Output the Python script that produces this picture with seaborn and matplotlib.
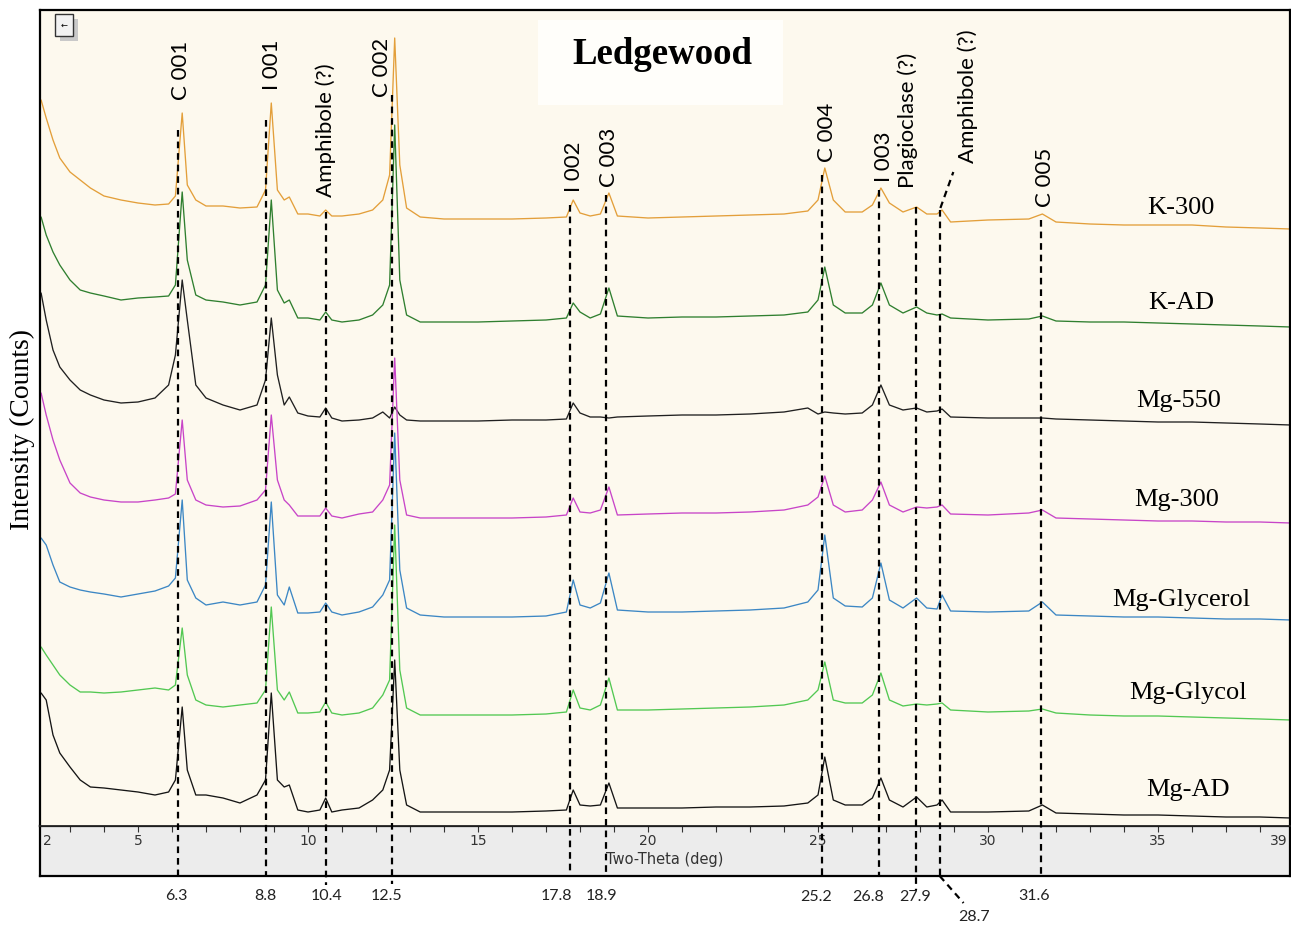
import numpy as np
import pandas as pd
import matplotlib
matplotlib.use("Agg")
import matplotlib.pyplot as plt
from matplotlib.patches import Rectangle
import seaborn as sns

# ---------------- data ----------------
two_theta = [2.15, 2.3, 2.5, 2.7, 3.0, 3.3, 3.6, 4.0, 4.5, 5.0,
             5.5, 5.9, 6.1, 6.3, 6.45, 6.7, 7.0, 7.5, 8.0, 8.5,
             8.75, 8.92, 9.1, 9.3, 9.45, 9.7, 10.0, 10.35, 10.52, 10.7,
             11.0, 11.5, 11.9, 12.2, 12.4, 12.55, 12.7, 12.9, 13.3, 14.0,
             15.0, 16.0, 17.0, 17.6, 17.8, 18.0, 18.3, 18.6, 18.85, 19.1,
             20.0, 21.0, 22.0, 23.0, 24.0, 24.7, 25.0, 25.2, 25.45, 25.8,
             26.3, 26.6, 26.85, 27.1, 27.5, 27.9, 28.2, 28.5, 28.65, 28.9,
             30.0, 31.2, 31.6, 32.0, 33.0, 34.0, 35.0, 36.0, 37.0, 38.0, 38.9]

k_300 = [130, 112, 90, 72, 58, 50, 42, 34, 30, 27,
         25, 26, 34, 117, 45, 30, 24, 24, 22, 23,
         40, 127, 40, 30, 33, 16, 16, 14, 20, 14,
         14, 16, 20, 30, 55, 192, 65, 22, 13, 11,
         11, 11, 12, 13, 30, 17, 14, 16, 37, 14,
         12, 13, 14, 15, 16, 19, 30, 62, 30, 18,
         18, 25, 42, 27, 18, 23, 16, 16, 20, 8,
         10, 11, 16, 8, 6, 5, 5, 5, 3, 2, 1]

k_ad = [110, 92, 75, 62, 47, 37, 34, 31, 27, 29,
        30, 31, 42, 135, 67, 32, 27, 25, 22, 25,
        42, 127, 37, 24, 27, 9, 9, 7, 15, 7,
        5, 7, 12, 22, 42, 202, 47, 12, 5, 5,
        5, 6, 7, 9, 24, 15, 9, 13, 39, 11,
        9, 10, 10, 11, 12, 15, 27, 60, 22, 14,
        14, 22, 44, 22, 14, 20, 14, 12, 13, 9,
        7, 8, 11, 6, 5, 5, 4, 3, 2, 1, 0]

mg_550 = [132, 105, 75, 58, 45, 35, 30, 25, 22, 23,
          27, 40, 70, 145, 105, 40, 27, 20, 15, 20,
          45, 107, 50, 20, 28, 12, 9, 8, 17, 7,
          4, 5, 7, 13, 7, 18, 10, 5, 4, 4,
          4, 5, 5, 6, 22, 12, 8, 8, 7, 8,
          9, 10, 10, 11, 13, 17, 11, 13, 12, 11,
          12, 20, 40, 20, 15, 17, 13, 14, 16, 8,
          7, 7, 7, 6, 5, 4, 3, 3, 2, 1, 0]

mg_300 = [130, 108, 83, 63, 40, 30, 26, 23, 21, 21,
          23, 25, 29, 103, 43, 23, 18, 16, 17, 23,
          33, 108, 43, 23, 18, 7, 7, 7, 15, 7,
          5, 9, 11, 23, 38, 165, 43, 8, 5, 5,
          5, 5, 6, 8, 25, 11, 10, 13, 36, 8,
          9, 10, 10, 11, 13, 18, 26, 47, 18, 11,
          13, 23, 41, 18, 11, 16, 15, 16, 18, 9,
          8, 10, 13, 5, 4, 3, 2, 2, 1, 1, 0]

mg_glycerol = [82, 75, 55, 38, 33, 30, 28, 26, 23, 26,
               29, 34, 42, 120, 40, 22, 15, 18, 15, 18,
               35, 118, 25, 15, 33, 7, 7, 8, 17, 8,
               5, 8, 13, 25, 40, 187, 50, 12, 5, 3,
               3, 3, 4, 8, 40, 15, 12, 17, 47, 10,
               8, 8, 9, 10, 12, 18, 30, 85, 22, 14,
               13, 22, 57, 20, 12, 22, 12, 11, 25, 9,
               8, 9, 18, 5, 4, 3, 3, 2, 1, 1, 0]

mg_glycol = [73, 65, 55, 45, 35, 28, 28, 27, 28, 30,
             32, 30, 35, 92, 45, 20, 15, 13, 15, 17,
             30, 113, 30, 20, 28, 7, 7, 8, 18, 7,
             5, 7, 12, 25, 40, 195, 50, 12, 5, 5,
             5, 5, 6, 8, 30, 12, 10, 15, 42, 10,
             10, 11, 12, 13, 15, 20, 30, 58, 20, 17,
             17, 25, 47, 20, 14, 16, 15, 16, 17, 10,
             8, 9, 11, 7, 5, 4, 4, 3, 2, 1, 0]

mg_ad = [125, 118, 83, 65, 51, 38, 31, 30, 28, 26,
         23, 26, 38, 111, 48, 23, 23, 20, 15, 23,
         38, 125, 38, 31, 33, 8, 6, 8, 20, 6,
         8, 10, 18, 28, 48, 158, 48, 13, 6, 6,
         6, 6, 7, 8, 28, 13, 12, 13, 35, 10,
         10, 10, 11, 11, 12, 15, 23, 61, 18, 13,
         13, 20, 40, 18, 11, 21, 11, 13, 18, 6,
         6, 7, 13, 5, 4, 3, 3, 2, 1, 1, 0]

samples = ["K-300", "K-AD", "Mg-550", "Mg-300", "Mg-Glycerol", "Mg-Glycol", "Mg-AD"]
series = [k_300, k_ad, mg_550, mg_300, mg_glycerol, mg_glycol, mg_ad]

peak_positions = [6.3, 8.8, 10.4, 12.5, 17.8, 18.9, 25.2, 26.8, 27.9, 28.7, 31.6]
peak_names = ["C 001", "I 001", "Amphibole (?)", "C 002", "I 002", "C 003",
              "C 004", "I 003", "Plagioclase (?)", "Amphibole (?)", "C 005"]
x_ticks = [5, 10, 15, 20, 25, 30, 35]

title = "Ledgewood"
x_label = "Two-Theta (deg)"
y_label = "Intensity (Counts)"

# ---------------- layout / style ----------------
W, H = 1291, 926
offsets = [596, 499, 401, 303, 206, 106, 8]          # vertical stacking
colors = ["#E39F3A", "#2F7F2F", "#202020", "#C845C8", "#3C87C4", "#52C852", "#151515"]
label_x = [35.68, 35.68, 35.62, 35.56, 35.68, 35.88, 35.88]
label_dy = [22, 24, 24, 23, 20, 27, 28]

line_x = [6.17, 8.76, 10.52, 12.47, 17.70, 18.75, 25.13, 26.79, 27.88, 28.58, 31.56]
line_top = [130, 120, 212, 95, 205, 195, 175, 190, 207, 210, 220]
line_bot = [876, 876, 885, 884, 876, 876, 876, 876, 890, 876, 876]
name_x = [6.26, 8.94, 10.52, 12.18, 17.82, 18.84, 25.26, 26.94, 27.65, 29.41, 31.68]
name_bottom = [100, 90, 197, 97, 192, 187, 162, 182, 188, 163, 207]
val_x = [6.12, 8.76, 10.56, 12.30, 17.30, 18.62, 24.94, 26.47, 27.85, 29.59, 31.35]
val_y = [896, 896, 896, 896, 896, 896, 897, 897, 897, 917, 896]

BG = "#FDF9EE"
BAND = "#ECECEC"

sns.set_theme(style="white")
plt.rcParams["font.family"] = ["DejaVu Sans"]

fig = plt.figure(figsize=(W / 100, H / 100), dpi=100)
fig.patch.set_facecolor("white")


def fx(px):
    return px / W


def fy(py):
    return 1 - py / H


X0 = 2 + (40 - 36) / 34
X1 = 2 + (1290 - 36) / 34

ax = fig.add_axes([fx(40), fy(826), fx(1290) - fx(40), fy(10) - fy(826)])
band = fig.add_axes([fx(40), fy(876), fx(1290) - fx(40), fy(826) - fy(876)])
ax.set_zorder(2)
band.set_zorder(1)

ax.set_facecolor(BG)
band.set_facecolor(BAND)
ax.set_xlim(X0, X1)
ax.set_ylim(0, 816)
band.set_xlim(X0, X1)
band.set_ylim(0, 1)

# data frame
rows = []
for name, vals, off in zip(samples, series, offsets):
    for t, v in zip(two_theta, vals):
        rows.append({"two_theta": t, "signal": v + off, "sample": name})
df = pd.DataFrame(rows)

sns.lineplot(data=df, x="two_theta", y="signal", hue="sample", hue_order=samples,
             palette=colors, estimator=None, sort=False, legend=False,
             linewidth=0.95, ax=ax)

ax.set_xticks([])
ax.set_yticks([])
ax.set_xlabel("")
ax.set_ylabel("")
for s in ["left", "top", "right"]:
    ax.spines[s].set_color("black")
    ax.spines[s].set_linewidth(1.6)
ax.spines["bottom"].set_color("#222222")
ax.spines["bottom"].set_linewidth(1.3)
for s in band.spines.values():
    s.set_color("black")
    s.set_linewidth(1.6)

# band ticks
band.set_xticks(list(range(3, 39)))
band.set_yticks([])
band.xaxis.tick_top()
band.tick_params(axis="x", direction="in", length=4, width=0.8, color="#333333",
                 labeltop=False, labelbottom=False, top=True, bottom=False)
for v in x_ticks:
    band.text(v, 0.70, str(v), ha="center", va="center", fontsize=10, color="#333333")
band.text(X0 + 0.08, 0.70, "2", ha="left", va="center", fontsize=10, color="#333333")
band.text(X1 - 0.08, 0.70, "39", ha="right", va="center", fontsize=10, color="#333333")
band.text((X0 + X1) / 2, 0.33, x_label, ha="center", va="center", fontsize=10.5,
          color="#333333")

# title box + title
ax.add_patch(Rectangle((2 + (538 - 36) / 34, 826 - 105), (783 - 538) / 34, 85,
                       facecolor="#FFFEFA", edgecolor="none", zorder=1))
ax.text(2 + (662 - 36) / 34, 826 - 55, title, ha="center", va="center",
        family="Liberation Serif", fontweight="bold", fontsize=26.5, color="black", zorder=4)

# sample labels
for name, lx, dy, off in zip(samples, label_x, label_dy, offsets):
    ax.text(lx, off + dy, name, ha="center", va="center", family="Liberation Serif",
            fontsize=19, color="black", zorder=4)

# dashed reference lines
for lx, t, b in zip(line_x, line_top, line_bot):
    ax.plot([lx, lx], [826 - t, 826 - b], color="black", lw=1.6,
            linestyle=(0, (3, 2.2)), clip_on=False, zorder=3)
# diagonal leader lines for the 28.7 amphibole peak
ax.plot([28.6, 28.98], [826 - 208, 826 - 172], color="black", lw=1.6,
        linestyle=(0, (3, 2.2)), clip_on=False, zorder=3)
ax.plot([28.58, 29.28], [826 - 876, 826 - 903], color="black", lw=1.6,
        linestyle=(0, (3, 2.2)), clip_on=False, zorder=3)

# peak names (rotated)
for nm, nx, nb in zip(peak_names, name_x, name_bottom):
    ax.text(nx, 826 - nb, nm, rotation=90, ha="center", va="bottom",
            family="Lato", fontsize=16, color="black", zorder=4)

# peak values below the axis
for v, vx, vy in zip(peak_positions, val_x, val_y):
    ax.text(vx, 826 - vy, f"{v:.1f}", ha="center", va="center", family="Lato",
            fontsize=11.5, color="#222222", clip_on=False)

# y label
fig.text(fx(22), fy(430), y_label, rotation=90, ha="center", va="center",
         family="Liberation Serif", fontsize=20, color="black")

# small button in top-left corner
fig.add_artist(Rectangle((fx(60), fy(41)), 18 / W, 22 / H, transform=fig.transFigure,
                         facecolor="#C9C9C9", edgecolor="none", zorder=5))
fig.add_artist(Rectangle((fx(55), fy(36)), 18 / W, 22 / H, transform=fig.transFigure,
                         facecolor="#F2F2F2", edgecolor="#333333", linewidth=1.0, zorder=6))
fig.text(fx(64), fy(25), "\u2190", ha="center", va="center", fontsize=6, color="black",
         zorder=7)

fig.savefig("out.png", dpi=100, facecolor="white")
